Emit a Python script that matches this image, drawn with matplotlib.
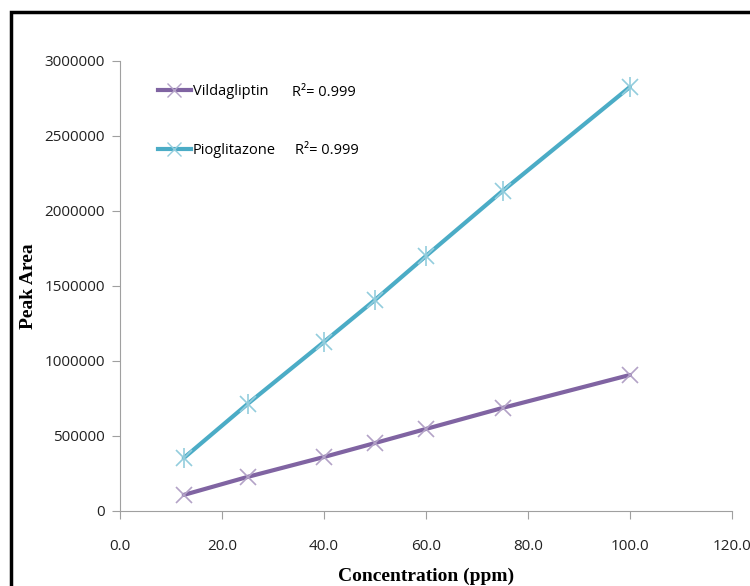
import matplotlib.pyplot as plt
from matplotlib.lines import Line2D
from matplotlib.patches import Rectangle

# Calibration data
conc = [12.5, 25, 40, 50, 60, 75, 100]
vilda = [107000, 227000, 360000, 453000, 547000, 687000, 907000]
pio = [353000, 713000, 1127000, 1407000, 1700000, 2133000, 2827000]
r2_vilda = 0.999
r2_pio = 0.999

fig = plt.figure(figsize=(7.5, 5.86), dpi=100)
ax = fig.add_axes([0.16, 0.128, 0.816, 0.768])

# black frame round the picture
fig.patches.append(Rectangle((11 / 750, -0.05), 1.1, 1 - 12 / 586 + 0.05,
                             transform=fig.transFigure, fill=False,
                             edgecolor="black", linewidth=2.5))

ax.plot(conc, vilda, color="#8064A2", lw=3, solid_capstyle="round")
ax.plot(conc, vilda, ls="none", marker="x", ms=11, mew=1.2, color="#B3A2C7")

ax.plot(conc, pio, color="#4BACC6", lw=3, solid_capstyle="round")
ax.plot(conc, pio, ls="none", marker="x", ms=11, mew=1.2, color="#93CDDD")
ax.plot(conc, pio, ls="none", marker="|", ms=14, mew=1.2, color="#93CDDD")

ax.set_xlim(0, 120)
ax.set_ylim(0, 3000000)
ax.set_xticks(range(0, 121, 20))
ax.set_xticklabels([f"{v:.1f}" for v in range(0, 121, 20)])
ax.set_yticks(range(0, 3000001, 500000))
ax.set_yticklabels([str(v) for v in range(0, 3000001, 500000)])

for s in ["top", "right"]:
    ax.spines[s].set_visible(False)
for s in ["left", "bottom"]:
    ax.spines[s].set_color("#A0A0A0")
ax.tick_params(direction="out", length=6, color="#A0A0A0", labelsize=11)
ax.tick_params(axis="x", pad=14)
ax.tick_params(axis="y", pad=5)
for lab in ax.get_xticklabels() + ax.get_yticklabels():
    lab.set_fontfamily("Open Sans")
    lab.set_color("#222222")

ax.set_xlabel("Concentration (ppm)", fontfamily="Liberation Serif",
              fontweight="bold", fontsize=14)
ax.set_ylabel("Peak Area", fontfamily="Liberation Serif",
              fontweight="bold", fontsize=14)
ax.xaxis.set_label_coords(0.5, -0.126)
ax.yaxis.set_label_coords(-0.136, 0.5)

h_v = Line2D([], [], color="#8064A2", lw=3, marker="x", ms=10, mew=1,
             markeredgecolor="#B3A2C7")
h_p = Line2D([], [], color="#4BACC6", lw=3, marker="x", ms=10, mew=1,
             markeredgecolor="#93CDDD")
ax.legend([h_v, h_p], ["Vildagliptin", "Pioglitazone"],
          loc="upper left", bbox_to_anchor=(0.04, 0.977), frameon=False,
          handlelength=2.3, handletextpad=0.1, labelspacing=2.98,
          prop={"family": "Open Sans", "size": 10.5})
ax.text(0.281, 0.929, f"R\u00b2= {r2_vilda}", transform=ax.transAxes,
        va="center", fontfamily="Open Sans", fontsize=10.5)
ax.text(0.286, 0.800, f"R\u00b2= {r2_pio}", transform=ax.transAxes,
        va="center", fontfamily="Open Sans", fontsize=10.5)

fig.savefig("out.png", dpi=100)
